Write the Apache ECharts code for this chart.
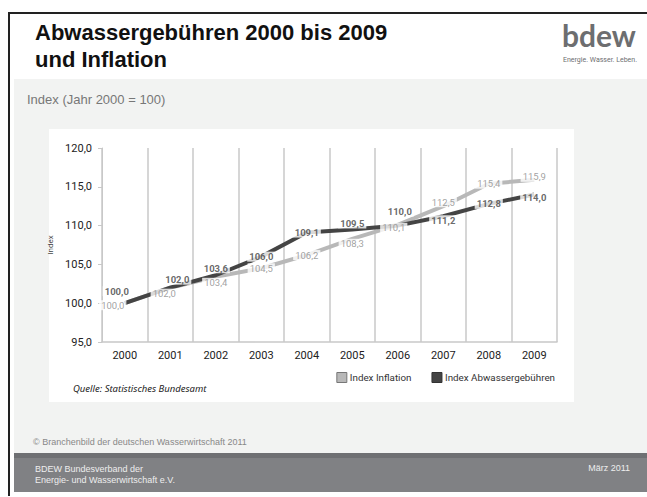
<!DOCTYPE html>
<html>
<head>
<meta charset="utf-8">
<script src="https://cdn.jsdelivr.net/npm/echarts@6/dist/echarts.min.js"></script>
<style>
  html, body { margin: 0; padding: 0; background: #fff; }
  #chart { width: 647px; height: 497px; }
</style>
</head>
<body>
<div id="chart"></div>
<script>
// Daten (Index, Jahr 2000 = 100)
var years = ['2000', '2001', '2002', '2003', '2004', '2005', '2006', '2007', '2008', '2009'];
var inflation = [100.0, 102.0, 103.4, 104.5, 106.2, 108.3, 110.1, 112.5, 115.4, 115.9];
var abwasser = [100.0, 102.0, 103.6, 106.0, 109.1, 109.5, 110.0, 111.2, 112.8, 114.0];
var yTicks = [95, 100, 105, 110, 115, 120];

// Label-Verschiebungen (nur Darstellung)
var shiftInflation = [[-12, 2], [-6, 6], [0, 6], [0, 0], [0, 0], [0, 5], [-4, 3], [0, -4], [0, 0], [0, -3]];
var shiftAbwasser = [[-8, -12], [7, -8], [0, -7], [0, 0], [0, 0], [0, -6], [2, -14], [0, 4], [0, 0], [0, 3]];

var FONT = 'Roboto, "Noto Sans", sans-serif';
var HEAD = '"Liberation Sans", Arial, sans-serif';

function fmt(v) {
  return v.toFixed(1).replace('.', ',');
}

function labelItems(values, shifts) {
  return values.map(function (v, i) {
    return { value: [i, v], label: { offset: shifts[i] } };
  });
}

function labelSeries(name, values, shifts, color, weight) {
  return {
    name: name,
    type: 'scatter',
    data: labelItems(values, shifts),
    symbolSize: 0,
    silent: true,
    z: 10,
    label: {
      show: true,
      position: 'inside',
      formatter: function (p) { return fmt(p.value[1]); },
      fontFamily: FONT,
      fontSize: 9.5,
      fontWeight: weight,
      color: color,
      backgroundColor: '#fff',
      padding: [0, 2]
    }
  };
}

var chart = echarts.init(document.getElementById('chart'), null, { renderer: 'svg' });

var option = {
  backgroundColor: '#fff',
  animation: false,
  graphic: [
    // Rahmen
    { type: 'rect', shape: { x: 8, y: 12, width: 640, height: 2 }, style: { fill: '#222' } },
    { type: 'rect', shape: { x: 8, y: 12, width: 2, height: 484 }, style: { fill: '#222' } },
    // Hellgrauer Bereich
    { type: 'rect', shape: { x: 14, y: 79, width: 633, height: 375 }, style: { fill: '#f2f3f2' } },
    // Weisses Diagrammfeld
    { type: 'rect', shape: { x: 49, y: 129, width: 525, height: 273 }, style: { fill: '#fff' } },
    // Fusszeile
    { type: 'rect', shape: { x: 14, y: 453, width: 633, height: 39 }, style: { fill: '#808184' } },
    { type: 'rect', shape: { x: 14, y: 453, width: 633, height: 5 }, style: { fill: '#6f7073' } },
    // Titel
    { type: 'text', left: 35, top: 21, style: { text: 'Abwassergebühren 2000 bis 2009', font: 'bold 22px ' + HEAD, fill: '#111' } },
    { type: 'text', left: 35, top: 48, style: { text: 'und Inflation', font: 'bold 22px ' + HEAD, fill: '#111' } },
    // Logo
    { type: 'text', left: 562, top: 20, style: { text: 'bdew', font: 'bold 30px Lato, ' + HEAD, fill: '#6d6e70' } },
    { type: 'text', left: 563, top: 56, style: { text: 'Energie. Wasser. Leben.', font: '7px ' + FONT, fill: '#6d6e70' } },
    // Untertitel
    { type: 'text', left: 27, top: 93, style: { text: 'Index (Jahr 2000 = 100)', font: '13px ' + HEAD, fill: '#777' } },
    // Quelle
    { type: 'text', left: 73, top: 383, style: { text: 'Quelle: Statistisches Bundesamt', font: 'italic 9.5px "Noto Sans", sans-serif', fill: '#222' } },
    // Copyright
    { type: 'text', left: 33, top: 437, style: { text: '© Branchenbild der deutschen Wasserwirtschaft 2011', font: '9px ' + HEAD, fill: '#888' } },
    // Fusszeilentexte
    { type: 'text', left: 35, top: 463, style: { text: 'BDEW Bundesverband der\nEnergie- und Wasserwirtschaft e.V.', font: '9px ' + HEAD, fill: '#eee', lineHeight: 11 } },
    { type: 'text', right: 17, top: 463, style: { text: 'März 2011', font: '9px ' + HEAD, fill: '#eee' } }
  ],
  legend: {
    right: 87,
    top: 367,
    itemWidth: 10,
    itemHeight: 10,
    itemGap: 20,
    icon: 'rect',
    textStyle: { fontFamily: FONT, fontSize: 9.8, color: '#333', padding: [0, 0, 0, -2] },
    data: [
      { name: 'Index Inflation', itemStyle: { color: '#b8b8b8', borderColor: '#777', borderWidth: 1 } },
      { name: 'Index Abwassergebühren', itemStyle: { color: '#444', borderColor: '#333', borderWidth: 1 } }
    ]
  },
  grid: { left: 102, right: 90, top: 148, bottom: 155 },
  xAxis: {
    type: 'category',
    data: years,
    boundaryGap: true,
    axisLine: { lineStyle: { color: '#c8c8c8', width: 1.5 } },
    axisTick: { show: false },
    axisLabel: { fontFamily: FONT, fontSize: 11, color: '#222', margin: 8 },
    splitLine: { show: true, lineStyle: { color: '#c8c8c8', width: 1.5 } }
  },
  yAxis: {
    type: 'value',
    min: yTicks[0],
    max: yTicks[yTicks.length - 1],
    interval: 5,
    name: 'Index',
    nameLocation: 'middle',
    nameGap: 40,
    nameTextStyle: { fontFamily: FONT, fontSize: 8, color: '#444' },
    axisLine: { show: true, lineStyle: { color: '#c8c8c8', width: 1 } },
    axisTick: { show: true, length: 4, lineStyle: { color: '#c8c8c8' } },
    axisLabel: { fontFamily: FONT, fontSize: 11, color: '#222', margin: 10, formatter: fmt },
    splitLine: { show: false }
  },
  series: [
    {
      name: 'Index Inflation',
      type: 'line',
      data: inflation,
      symbol: 'none',
      itemStyle: { color: '#b8b8b8' },
      lineStyle: { color: '#b8b8b8', width: 4, cap: 'butt' },
      z: 2
    },
    {
      name: 'Index Abwassergebühren',
      type: 'line',
      data: abwasser,
      symbol: 'none',
      itemStyle: { color: '#444' },
      lineStyle: { color: '#444', width: 4, cap: 'butt' },
      z: 3
    },
    labelSeries('Werte Inflation', inflation, shiftInflation, '#8a8a8a', 'normal'),
    labelSeries('Werte Abwasser', abwasser, shiftAbwasser, '#444', 'bold')
  ]
};

chart.setOption(option);
</script>
</body>
</html>
